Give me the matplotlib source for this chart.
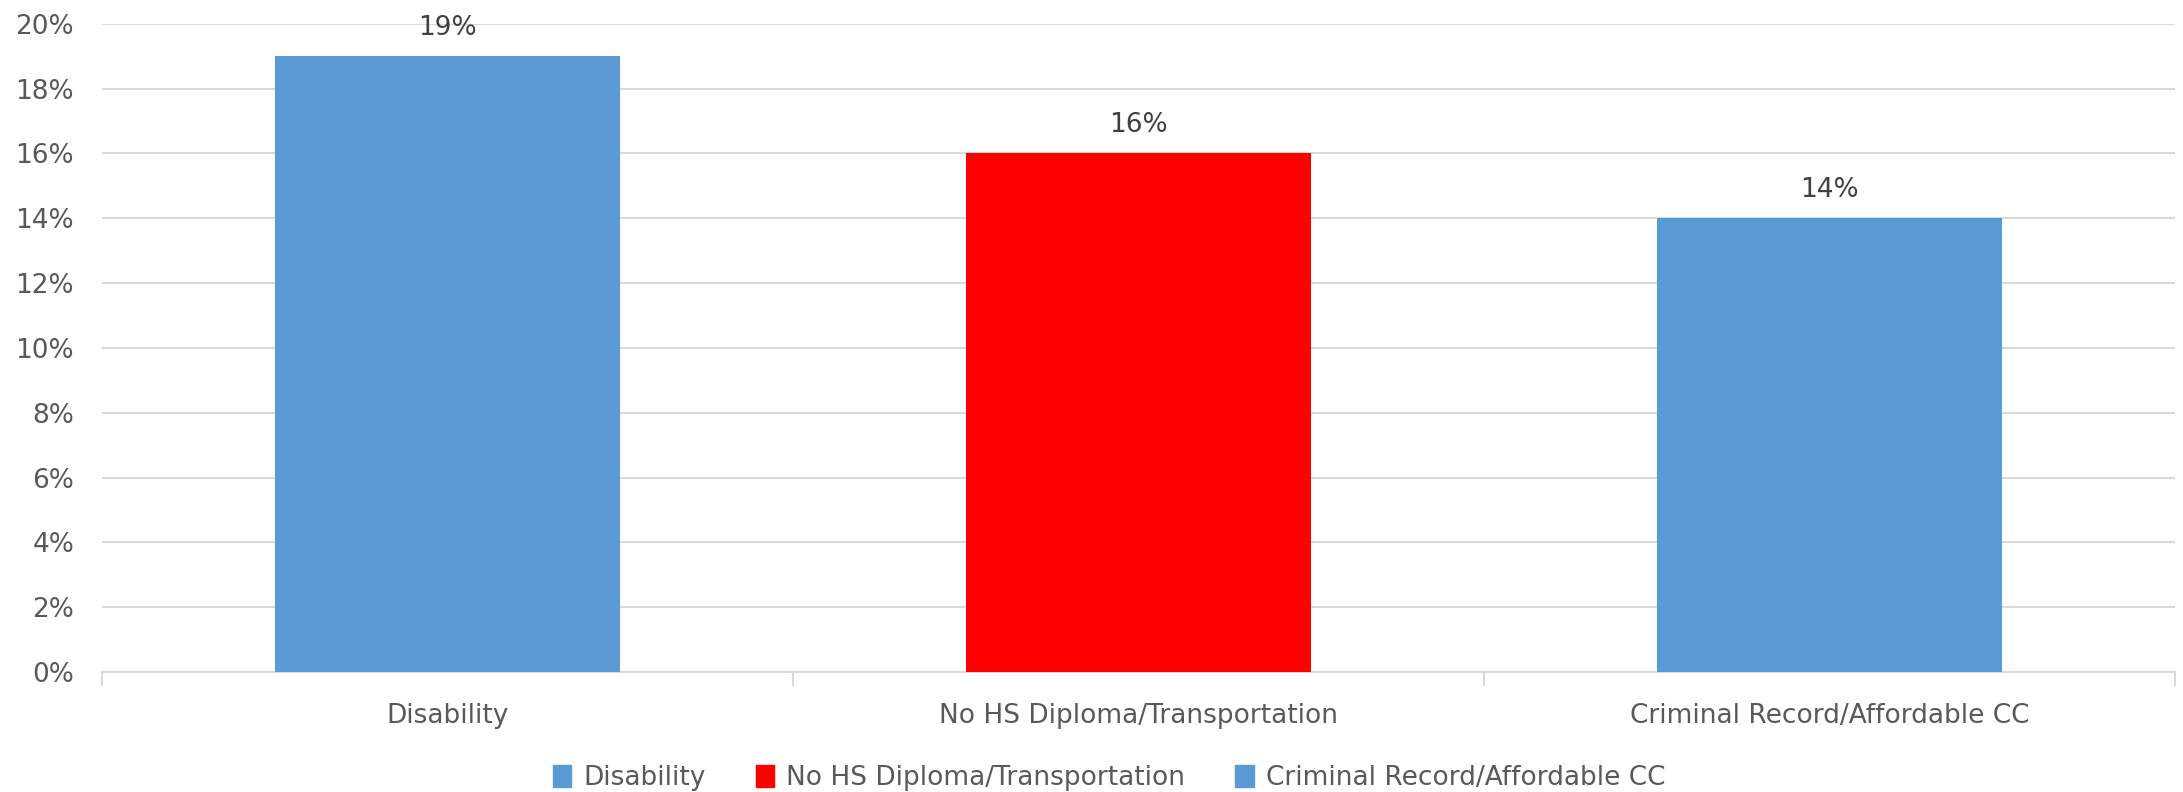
import numpy as np
import matplotlib.pyplot as plt
from matplotlib.patches import Patch
from matplotlib.ticker import FuncFormatter, FixedLocator

plt.rcParams['font.family'] = ['DejaVu Sans']

categories = ['Disability', 'No HS Diploma/Transportation', 'Criminal Record/Affordable CC']
values = [19, 16, 14]
colors = ['#5B9BD5', '#FF0000', '#5B9BD5']
txt = '#595959'

fig = plt.figure(figsize=(21.83, 7.92), dpi=100)
ax = fig.add_axes([0.0467, 0.1515, 0.9496, 0.8185])

x = np.arange(len(categories))
bars = ax.bar(x, values, width=0.5, color=colors, zorder=3)

for b, v in zip(bars, values):
    ax.annotate(f'{v}%', (b.get_x() + b.get_width() / 2, v), xytext=(0, 11),
                textcoords='offset points', ha='center', va='bottom',
                fontsize=19, color='#404040')

ax.set_xlim(-0.5, len(categories) - 0.5)
ax.set_ylim(0, 20)
ax.set_yticks(np.arange(0, 21, 2))
ax.yaxis.set_major_formatter(FuncFormatter(lambda v, p: f'{v:.0f}%'))
ax.grid(axis='y', color='#d9d9d9', linewidth=1.5, zorder=0)

ax.set_xticks(x)
ax.set_xticklabels(categories)
ax.xaxis.set_minor_locator(FixedLocator(np.arange(-0.5, len(categories), 1)))
ax.tick_params(axis='x', which='major', length=0, pad=22, labelsize=19, labelcolor=txt)
ax.tick_params(axis='x', which='minor', length=10, color='#d9d9d9', width=1.5)
ax.tick_params(axis='y', length=0, pad=20, labelsize=19, labelcolor=txt)

for s in ['top', 'right', 'left']:
    ax.spines[s].set_visible(False)
ax.spines['bottom'].set_color('#d9d9d9')
ax.spines['bottom'].set_linewidth(1.5)

handles = [Patch(color=c, label=l) for c, l in zip(colors, categories)]
fig.legend(handles=handles, loc='center', bbox_to_anchor=(0.508, 0.018), ncol=3,
           frameon=False, fontsize=19, labelcolor=txt, handlelength=0.7,
           handleheight=0.9, handletextpad=0.45, columnspacing=1.9)

fig.savefig('out.png', dpi=100)
